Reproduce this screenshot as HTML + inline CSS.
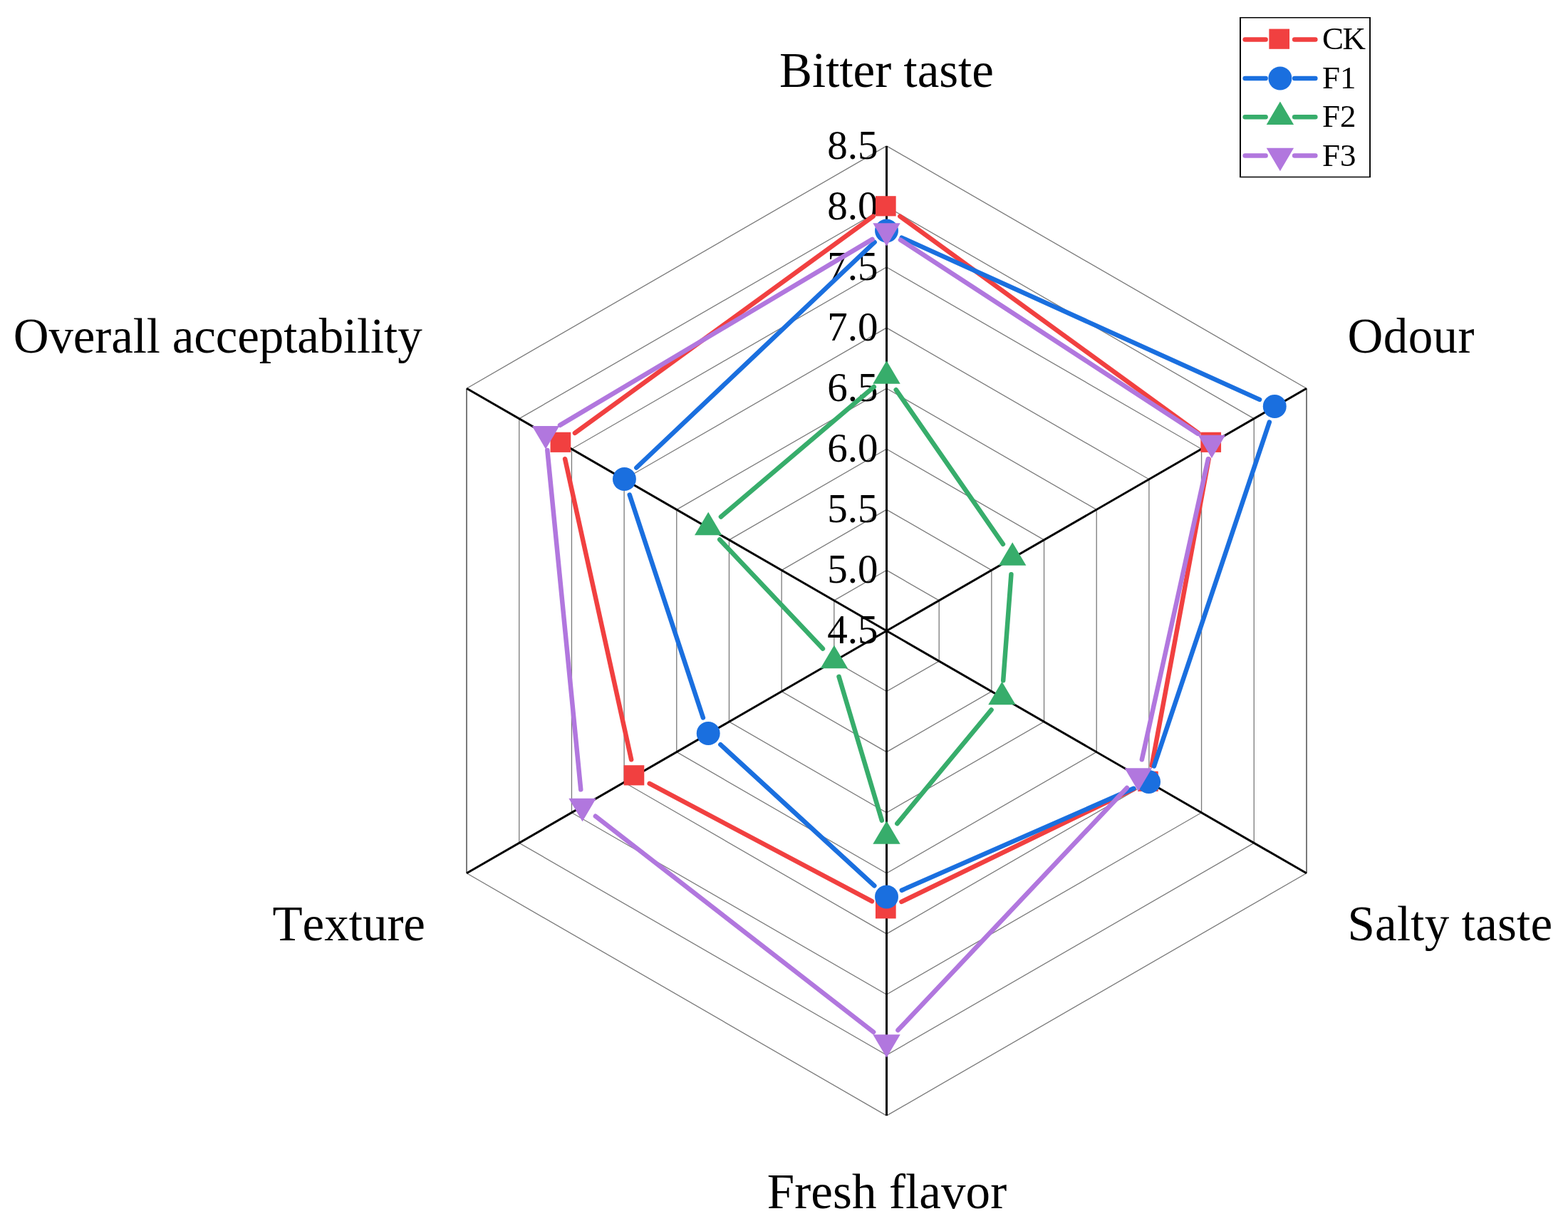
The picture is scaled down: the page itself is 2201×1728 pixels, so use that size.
<!DOCTYPE html>
<html lang="en"><head><meta charset="utf-8"><title>Radar chart</title>
<style>
html,body{margin:0;padding:0;background:#fff;}
body{width:2201px;height:1728px;overflow:hidden;}
svg{display:block;}
text{font-kerning:none;}
</style></head><body>
<svg width="2201" height="1728" viewBox="0 0 2201 1728">
<rect width="2201" height="1728" fill="#fff"/>
<g fill="none" stroke="#7a7a7a" stroke-width="1.3">
<polygon points="1244.5,800.42 1318.18,842.96 1318.18,928.04 1244.5,970.58 1170.82,928.04 1170.82,842.96"/>
<polygon points="1244.5,715.35 1391.85,800.42 1391.85,970.58 1244.5,1055.65 1097.15,970.58 1097.15,800.42"/>
<polygon points="1244.5,630.27 1465.53,757.89 1465.53,1013.11 1244.5,1140.72 1023.47,1013.11 1023.47,757.89"/>
<polygon points="1244.5,545.2 1539.21,715.35 1539.21,1055.65 1244.5,1225.8 949.79,1055.65 949.79,715.35"/>
<polygon points="1244.5,460.12 1612.89,672.81 1612.89,1098.19 1244.5,1310.88 876.11,1098.19 876.11,672.81"/>
<polygon points="1244.5,375.05 1686.56,630.27 1686.56,1140.72 1244.5,1395.95 802.44,1140.72 802.44,630.27"/>
<polygon points="1244.5,289.98 1760.24,587.74 1760.24,1183.26 1244.5,1481.03 728.76,1183.26 728.76,587.74"/>
</g>
<g fill="none" stroke="#787878" stroke-width="1.3">
<line x1="1244.5" y1="204.9" x2="1833.92" y2="545.2"/>
<line x1="1833.92" y1="1225.8" x2="1244.5" y2="1566.1"/>
<line x1="1244.5" y1="1566.1" x2="655.08" y2="1225.8"/>
<line x1="655.08" y1="545.2" x2="1244.5" y2="204.9"/>
</g>
<g fill="#7a7a7a">
<rect x="1833" y="545.2" width="2" height="680.6"/>
<rect x="654" y="545.2" width="2" height="680.6"/>
</g>
<g stroke="#000" stroke-width="3.0">
<line x1="1244.5" y1="885.5" x2="1244.5" y2="204.9"/>
<line x1="1244.5" y1="885.5" x2="1833.92" y2="545.2"/>
<line x1="1244.5" y1="885.5" x2="1833.92" y2="1225.8"/>
<line x1="1244.5" y1="885.5" x2="1244.5" y2="1566.1"/>
<line x1="1244.5" y1="885.5" x2="655.08" y2="1225.8"/>
<line x1="1244.5" y1="885.5" x2="655.08" y2="545.2"/>
</g>
<g font-family="'Liberation Serif', serif" font-size="57" fill="#000" text-anchor="end">
<text x="1232.5" y="903.4">4.5</text>
<text x="1232.5" y="818.32">5.0</text>
<text x="1232.5" y="733.25">5.5</text>
<text x="1232.5" y="648.17">6.0</text>
<text x="1232.5" y="563.1">6.5</text>
<text x="1232.5" y="478.02">7.0</text>
<text x="1232.5" y="392.95">7.5</text>
<text x="1232.5" y="307.88">8.0</text>
<text x="1232.5" y="222.8">8.5</text>
</g>
<g stroke="#F14040" stroke-width="6.5" stroke-linecap="round" fill="none">
<line x1="1263.31" y1="303.66" x2="1682.08" y2="607.84"/>
<line x1="1696.65" y1="644.36" x2="1616.8" y2="1074.64"/>
<line x1="1591.64" y1="1107.65" x2="1265.42" y2="1265.85"/>
<line x1="1223.95" y1="1265.12" x2="911.71" y2="1099.88"/>
<line x1="886.16" y1="1066.3" x2="793.11" y2="644.2"/>
<line x1="806.92" y1="607.84" x2="1225.69" y2="303.66"/>
</g>
<g>
<rect x="1228.95" y="275.2" width="28.7" height="28.2" fill="#F14040"/>
<rect x="1685.35" y="606.7" width="28.7" height="28.2" fill="#F14040"/>
<rect x="1597.01" y="1082.7" width="28.7" height="28.2" fill="#F14040"/>
<rect x="1228.95" y="1261.2" width="28.7" height="28.2" fill="#F14040"/>
<rect x="875.61" y="1074.2" width="28.7" height="28.2" fill="#F14040"/>
<rect x="772.55" y="606.7" width="28.7" height="28.2" fill="#F14040"/>
</g>
<g stroke="#1A6FDF" stroke-width="6.5" stroke-linecap="round" fill="none">
<line x1="1265.68" y1="333.59" x2="1768.05" y2="560.91"/>
<line x1="1781.84" y1="592.54" x2="1619.95" y2="1075.46"/>
<line x1="1591.27" y1="1106.84" x2="1265.79" y2="1249.66"/>
<line x1="1227.36" y1="1243.29" x2="1011.35" y2="1045.21"/>
<line x1="986.93" y1="1007.42" x2="883.72" y2="694.58"/>
<line x1="893.32" y1="656.51" x2="1227.62" y2="339.99"/>
</g>
<g>
<circle cx="1244.5" cy="324" r="16.45" fill="#1A6FDF"/>
<circle cx="1789.23" cy="570.5" r="16.45" fill="#1A6FDF"/>
<circle cx="1612.56" cy="1097.5" r="16.45" fill="#1A6FDF"/>
<circle cx="1244.5" cy="1259" r="16.45" fill="#1A6FDF"/>
<circle cx="994.22" cy="1029.5" r="16.45" fill="#1A6FDF"/>
<circle cx="876.44" cy="672.5" r="16.45" fill="#1A6FDF"/>
</g>
<g stroke="#37AD6B" stroke-width="6.5" stroke-linecap="round" fill="none">
<line x1="1257.74" y1="547.11" x2="1407.93" y2="763.89"/>
<line x1="1419.42" y1="806.18" x2="1408.19" y2="955.32"/>
<line x1="1391.61" y1="996.4" x2="1259.33" y2="1156.1"/>
<line x1="1237.85" y1="1151.72" x2="1177.54" y2="949.78"/>
<line x1="1154.92" y1="910.6" x2="1010.19" y2="757.4"/>
<line x1="1011.94" y1="725.45" x2="1226.78" y2="543.05"/>
</g>
<g>
<polygon points="1244.5,506.27 1225.3,538.87 1263.7,538.87" fill="#37AD6B"/>
<polygon points="1421.17,761.27 1401.97,793.87 1440.37,793.87" fill="#37AD6B"/>
<polygon points="1406.45,956.77 1387.25,989.37 1425.65,989.37" fill="#37AD6B"/>
<polygon points="1244.5,1152.27 1225.3,1184.87 1263.7,1184.87" fill="#37AD6B"/>
<polygon points="1170.89,905.77 1151.69,938.37 1190.09,938.37" fill="#37AD6B"/>
<polygon points="994.22,718.77 975.02,751.37 1013.42,751.37" fill="#37AD6B"/>
</g>
<g stroke="#B177DE" stroke-width="6.5" stroke-linecap="round" fill="none">
<line x1="1263.98" y1="336.7" x2="1681.42" y2="608.8"/>
<line x1="1695.89" y1="644.2" x2="1602.84" y2="1066.3"/>
<line x1="1581.87" y1="1105.9" x2="1260.47" y2="1446.1"/>
<line x1="1226.14" y1="1448.74" x2="835.91" y2="1145.76"/>
<line x1="815.27" y1="1108.36" x2="768.3" y2="631.89"/>
<line x1="786" y1="596.86" x2="1224.52" y2="335.89"/>
</g>
<g>
<polygon points="1244.5,345.73 1225.3,313.13 1263.7,313.13" fill="#B177DE"/>
<polygon points="1700.9,643.23 1681.7,610.63 1720.1,610.63" fill="#B177DE"/>
<polygon points="1597.84,1110.73 1578.64,1078.13 1617.04,1078.13" fill="#B177DE"/>
<polygon points="1244.5,1484.73 1225.3,1452.13 1263.7,1452.13" fill="#B177DE"/>
<polygon points="817.55,1153.23 798.35,1120.63 836.75,1120.63" fill="#B177DE"/>
<polygon points="766.02,630.48 746.82,597.88 785.22,597.88" fill="#B177DE"/>
</g>
<g font-family="'Liberation Serif', serif" font-size="69" fill="#000">
<text x="1244.5" y="122" text-anchor="middle">Bitter taste</text>
<text x="1891.5" y="495.3" text-anchor="start" letter-spacing="0.4">Odour</text>
<text x="1891.5" y="1320.3" text-anchor="start" letter-spacing="0.2">Salty taste</text>
<text x="1245" y="1696" text-anchor="middle" letter-spacing="0.1">Fresh flavor</text>
<text x="597" y="1320.2" text-anchor="end">Texture</text>
<text x="592.5" y="495.3" text-anchor="end" letter-spacing="-0.14">Overall acceptability</text>
</g>
<path fill="#000" fill-rule="evenodd" d="M1740 24H1924V249.2H1740Z M1742 25.5H1922.1V247.8H1742Z"/>
<g stroke="#F14040" stroke-width="6.5" stroke-linecap="round">
<line x1="1747.65" y1="55.4" x2="1776.65" y2="55.4"/>
<line x1="1817.15" y1="55.4" x2="1846.35" y2="55.4"/>
</g>
<rect x="1781.35" y="40.6" width="28.7" height="28.2" fill="#F14040"/>
<text x="1856" y="68.9" font-family="'Liberation Serif', serif" font-size="45" fill="#000" letter-spacing="-1.5">CK</text>
<g stroke="#1A6FDF" stroke-width="6.5" stroke-linecap="round">
<line x1="1747.65" y1="110" x2="1776.65" y2="110"/>
<line x1="1817.15" y1="110" x2="1846.35" y2="110"/>
</g>
<circle cx="1796.9" cy="110" r="16.45" fill="#1A6FDF"/>
<text x="1856" y="123.6" font-family="'Liberation Serif', serif" font-size="45" fill="#000">F1</text>
<g stroke="#37AD6B" stroke-width="6.5" stroke-linecap="round">
<line x1="1747.65" y1="164.2" x2="1776.65" y2="164.2"/>
<line x1="1817.15" y1="164.2" x2="1846.35" y2="164.2"/>
</g>
<polygon points="1796.9,142.47 1777.7,175.07 1816.1,175.07" fill="#37AD6B"/>
<text x="1856" y="178.3" font-family="'Liberation Serif', serif" font-size="45" fill="#000">F2</text>
<g stroke="#B177DE" stroke-width="6.5" stroke-linecap="round">
<line x1="1747.65" y1="218.6" x2="1776.65" y2="218.6"/>
<line x1="1817.15" y1="218.6" x2="1846.35" y2="218.6"/>
</g>
<polygon points="1796.9,240.33 1777.7,207.73 1816.1,207.73" fill="#B177DE"/>
<text x="1856" y="233" font-family="'Liberation Serif', serif" font-size="45" fill="#000">F3</text>
</svg>
</body></html>
